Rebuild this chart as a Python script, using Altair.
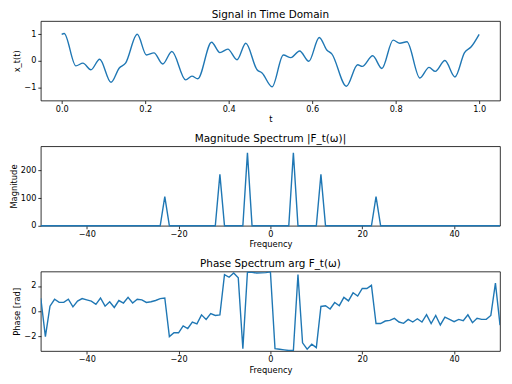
import altair as alt
import pandas as pd

# ---------------- data ----------------
# Time-domain signal: key points (t, x_t(t))
t_vals = [0.000, 0.006, 0.034, 0.051, 0.070, 0.091, 0.118, 0.138, 0.153, 0.181,
          0.203, 0.221, 0.242, 0.264, 0.297, 0.312, 0.326, 0.359, 0.379, 0.398,
          0.420, 0.441, 0.468, 0.480, 0.504, 0.531, 0.549, 0.570, 0.592, 0.617,
          0.635, 0.647, 0.682, 0.709, 0.720, 0.745, 0.767, 0.794, 0.810, 0.827,
          0.858, 0.880, 0.895, 0.918, 0.942, 0.965, 0.981, 1.000]
x_vals = [1.00, 1.03, -0.19, -0.09, -0.34, 0.06, -0.81, -0.27, -0.09, 1.00,
          0.22, 0.30, -0.12, 0.35, -0.72, -0.58, -0.68, 0.70, 0.31, 0.44,
          0.04, 0.66, -0.34, -0.46, -0.98, 0.22, 0.12, 0.37, -0.02, 0.88,
          0.41, 0.26, -0.96, -0.15, -0.21, 0.19, -0.29, 0.78, 0.66, 0.72,
          -0.65, -0.25, -0.40, 0.01, -0.61, 0.31, 0.53, 1.00]

# Frequency grid (1 Hz spacing)
freqs = list(range(-50, 51))

# Magnitude spectrum: zero everywhere except these peaks
peak_freqs = [-23, -11, -5, 5, 11, 23]
peak_mags = [106, 186, 264, 264, 186, 106]

# Phase spectrum, one value per frequency from -50 to 50
phase_vals = [1.03, -2.00, 0.40, 0.95, 0.70, 0.70, 0.95, 0.35, 0.80, 1.00,
              0.90, 0.80, 0.55, 1.05, 0.40, 0.75, 0.30, 0.85, 0.65, 1.10,
              0.65, 0.95, 0.90, 0.70, 0.75, 0.85, 1.00, 1.05, -2.00, -1.70,
              -1.70, -1.15, -1.36, -0.85, -1.00, -0.28, -0.64, -0.18, -0.33, -0.28,
              2.90, 2.69, 3.03, 2.64, -2.95, 3.10, 3.08, 3.02, 3.03, 3.05,
              3.12, -2.95, -3.00, -3.05, -3.10, -3.10, 2.90, -2.49, -3.00, -2.60,
              -2.87, 0.38, 0.44, 0.18, 0.69, 0.44, 1.10, 0.82, 1.46, 1.20,
              1.80, 1.80, 2.05, -0.97, -0.97, -0.77, -0.72, -0.56, -0.85, -0.95,
              -0.64, -0.85, -0.59, -0.85, -0.26, -0.97, -0.33, -1.08, -0.46, -0.64,
              -0.82, -0.64, -0.74, -0.28, -0.90, -0.56, -0.64, -0.64, -0.33, 2.23,
              -1.10]

# ---------------- tables ----------------
df_t = pd.DataFrame({"t": t_vals, "x": x_vals})
mag_vals = [0.0] * len(freqs)
for f, m in zip(peak_freqs, peak_mags):
    mag_vals[freqs.index(f)] = float(m)
df_m = pd.DataFrame({"f": freqs, "mag": mag_vals})
df_p = pd.DataFrame({"f": freqs, "phase": phase_vals})

W = 462
H = 80
BLUE = "#1f77b4"
PI = 3.141592653589793

top = alt.Chart(df_t).mark_line(color=BLUE, strokeWidth=1.4, interpolate="monotone").encode(
    x=alt.X("t:Q", scale=alt.Scale(domain=[-0.05, 1.05], nice=False, zero=False),
            axis=alt.Axis(title="t", values=[0, 0.2, 0.4, 0.6, 0.8, 1.0], format=".1f")),
    y=alt.Y("x:Q", scale=alt.Scale(domain=[-1.5, 1.5], nice=False),
            axis=alt.Axis(title="x_t(t)", values=[-1, 0, 1])),
).properties(width=W, height=H,
             title=alt.TitleParams("Signal in Time Domain", offset=1))

mag = alt.Chart(df_m).mark_line(color=BLUE, strokeWidth=1.4).encode(
    x=alt.X("f:Q", scale=alt.Scale(domain=[-50, 50], nice=False),
            axis=alt.Axis(title="Frequency", values=[-40, -20, 0, 20, 40])),
    y=alt.Y("mag:Q", scale=alt.Scale(domain=[0, 288], nice=False),
            axis=alt.Axis(title="Magnitude", values=[0, 100, 200])),
).properties(width=W, height=H,
             title=alt.TitleParams("Magnitude Spectrum |F_t(ω)|", offset=2))

phase = alt.Chart(df_p).mark_line(color=BLUE, strokeWidth=1.4, clip=True).encode(
    x=alt.X("f:Q", scale=alt.Scale(domain=[-50, 50], nice=False),
            axis=alt.Axis(title="Frequency", values=[-40, -20, 0, 20, 40])),
    y=alt.Y("phase:Q", scale=alt.Scale(domain=[-PI, PI], nice=False),
            axis=alt.Axis(title="Phase [rad]", values=[-2, 0, 2])),
).properties(width=W, height=H,
             title=alt.TitleParams("Phase Spectrum arg F_t(ω)", offset=2))

FONT = "DejaVu Sans"
chart = alt.vconcat(top, mag, phase, spacing=10).properties(
    padding={"left": 0, "right": 0, "top": 0, "bottom": 0}
).configure_axis(
    labelFont=FONT, titleFont=FONT, labelFontSize=8.2, titleFontSize=8.4,
    titleFontWeight="normal", labelColor="black", titleColor="black",
    tickColor="black", tickSize=3, tickWidth=0.8, labelPadding=2, titlePadding=2,
    grid=False, domain=False,
).configure_title(
    font=FONT, fontSize=10.5, fontWeight="normal", anchor="middle", color="black"
).configure_view(stroke="black", strokeWidth=0.8)

chart.save("out.html", embed_options={"renderer": "svg", "actions": False})
